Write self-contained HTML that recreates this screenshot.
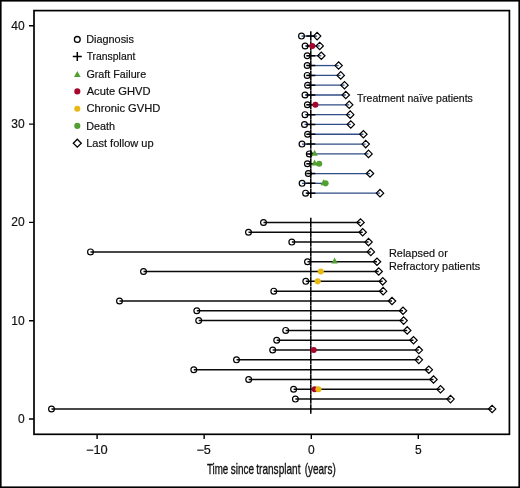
<!DOCTYPE html>
<html><head><meta charset="utf-8"><style>
html,body{margin:0;padding:0;background:#fff;}
body{width:520px;height:488px;overflow:hidden;}
svg{display:block;will-change:transform;}
text{font-family:"Liberation Sans",sans-serif;fill:#111;stroke:#111;stroke-width:0.18px;}
.tk{font-size:12px;}
.lg{font-size:10.7px;}
.xt{font-size:14.5px;stroke-width:0.35px;}
</style></head><body>
<svg width="520" height="488" viewBox="0 0 520 488">
<rect width="520" height="488" fill="#fff"/>
<rect x="0.8" y="0.8" width="518.4" height="486.4" fill="none" stroke="#000" stroke-width="1.6"/>
<rect x="34" y="10.6" width="475.4" height="423.7" fill="none" stroke="#000" stroke-width="1.7"/>
<text x="24.6" y="423.05" text-anchor="end" class="tk">0</text>
<text x="24.6" y="324.75" text-anchor="end" class="tk">10</text>
<text x="24.6" y="226.45" text-anchor="end" class="tk">20</text>
<text x="24.6" y="128.15" text-anchor="end" class="tk">30</text>
<text x="24.6" y="29.85" text-anchor="end" class="tk">40</text>
<text x="96.8" y="453.8" text-anchor="middle" class="tk" textLength="21.8" lengthAdjust="spacingAndGlyphs">−10</text>
<text x="203.7" y="453.8" text-anchor="middle" class="tk" textLength="14.4" lengthAdjust="spacingAndGlyphs">−5</text>
<text x="311.3" y="453.8" text-anchor="middle" class="tk">0</text>
<text x="418.3" y="453.8" text-anchor="middle" class="tk">5</text>
<path d="M29 419H34M29 320.7H34M29 222.4H34M29 124.1H34M29 25.8H34M97.1 434V439M204.15 434V439M311.3 434V439M418.3 434V439" stroke="#000" stroke-width="1.4"/>
<text x="206.91" y="473.7" class="xt" textLength="21.32" lengthAdjust="spacingAndGlyphs">Time</text>
<text x="230.82" y="473.7" class="xt" textLength="23.25" lengthAdjust="spacingAndGlyphs">since</text>
<text x="256.3" y="473.7" class="xt" textLength="44.16" lengthAdjust="spacingAndGlyphs">transplant</text>
<text x="304.72" y="473.7" class="xt" textLength="31.00" lengthAdjust="spacingAndGlyphs">(years)</text>
<g fill="none" stroke-width="1.45"><path d="M301.5 36.12H317.1" stroke="#2f4d86" stroke-width="1.3"/><path d="M305.1 45.93H319.7" stroke="#2f4d86" stroke-width="1.3"/><path d="M307.2 55.75H321.3" stroke="#2f4d86" stroke-width="1.3"/><path d="M307.2 65.56H338.6" stroke="#2f4d86" stroke-width="1.3"/><path d="M307.2 75.38H340.7" stroke="#2f4d86" stroke-width="1.3"/><path d="M307.6 85.19H344.5" stroke="#2f4d86" stroke-width="1.3"/><path d="M305 95.01H345.8" stroke="#2f4d86" stroke-width="1.3"/><path d="M307.4 104.82H349.2" stroke="#2f4d86" stroke-width="1.3"/><path d="M305 114.64H350.2" stroke="#2f4d86" stroke-width="1.3"/><path d="M304.5 124.45H350.8" stroke="#2f4d86" stroke-width="1.3"/><path d="M307.6 134.27H363.4" stroke="#2f4d86" stroke-width="1.3"/><path d="M302 144.08H365.7" stroke="#2f4d86" stroke-width="1.3"/><path d="M309.3 153.9H368.5" stroke="#2f4d86" stroke-width="1.3"/><path d="M307.4 163.71H319.2" stroke="#2f4d86" stroke-width="1.3"/><path d="M308.3 173.53H370" stroke="#2f4d86" stroke-width="1.3"/><path d="M302.1 183.34H325.6" stroke="#2f4d86" stroke-width="1.3"/><path d="M305.6 193.16H380" stroke="#2f4d86" stroke-width="1.3"/><path d="M263.5 222.45H360.5" stroke="#0a0a0a" stroke-width="1.5"/><path d="M248.5 232.27H362.7" stroke="#0a0a0a" stroke-width="1.5"/><path d="M291.8 242.08H368.5" stroke="#0a0a0a" stroke-width="1.5"/><path d="M90.5 251.9H370.8" stroke="#0a0a0a" stroke-width="1.5"/><path d="M307.5 261.71H377" stroke="#0a0a0a" stroke-width="1.5"/><path d="M143.5 271.52H378.7" stroke="#0a0a0a" stroke-width="1.5"/><path d="M305.8 281.34H382.7" stroke="#0a0a0a" stroke-width="1.5"/><path d="M273.8 291.15H383.1" stroke="#0a0a0a" stroke-width="1.5"/><path d="M119.5 300.97H392" stroke="#0a0a0a" stroke-width="1.5"/><path d="M196.8 310.79H403" stroke="#0a0a0a" stroke-width="1.5"/><path d="M198.7 320.6H403.6" stroke="#0a0a0a" stroke-width="1.5"/><path d="M285.7 330.42H407.2" stroke="#0a0a0a" stroke-width="1.5"/><path d="M276.7 340.23H413.5" stroke="#0a0a0a" stroke-width="1.5"/><path d="M272.7 350.05H418.8" stroke="#0a0a0a" stroke-width="1.5"/><path d="M236.5 359.86H418.8" stroke="#0a0a0a" stroke-width="1.5"/><path d="M193.8 369.68H428.8" stroke="#0a0a0a" stroke-width="1.5"/><path d="M248.7 379.49H433.5" stroke="#0a0a0a" stroke-width="1.5"/><path d="M293.6 389.31H440.5" stroke="#0a0a0a" stroke-width="1.5"/><path d="M295.4 399.12H450.5" stroke="#0a0a0a" stroke-width="1.5"/><path d="M51.5 408.94H492.1" stroke="#0a0a0a" stroke-width="1.5"/></g>
<path d="M306.3 36.12h9M310.8 31.37v9.5M306.3 45.93h9M310.8 41.18v9.5M306.3 55.75h9M310.8 51v9.5M306.3 65.56h9M310.8 60.81v9.5M306.3 75.38h9M310.8 70.63v9.5M306.3 85.19h9M310.8 80.44v9.5M306.3 95.01h9M310.8 90.26v9.5M306.3 104.82h9M310.8 100.07v9.5M306.3 114.64h9M310.8 109.89v9.5M306.3 124.45h9M310.8 119.7v9.5M306.3 134.27h9M310.8 129.52v9.5M306.3 144.08h9M310.8 139.33v9.5M306.3 153.9h9M310.8 149.15v9.5M306.3 163.71h9M310.8 158.96v9.5M306.3 173.53h9M310.8 168.78v9.5M306.3 183.34h9M310.8 178.59v9.5M306.3 193.16h9M310.8 188.41v9.5M310.8 217.7v9.5M310.8 227.52v9.5M310.8 237.33v9.5M310.8 247.15v9.5M310.8 256.96v9.5M310.8 266.77v9.5M310.8 276.59v9.5M310.8 286.4v9.5M310.8 296.22v9.5M310.8 306.04v9.5M310.8 315.85v9.5M310.8 325.67v9.5M310.8 335.48v9.5M310.8 345.3v9.5M310.8 355.11v9.5M310.8 364.93v9.5M310.8 374.74v9.5M310.8 384.56v9.5M310.8 394.37v9.5M310.8 404.19v9.5" stroke="#000" stroke-width="1.5" fill="none"/>
<g fill="none" stroke="#000" stroke-width="1.2"><circle cx="301.5" cy="36.12" r="2.9"/><circle cx="305.1" cy="45.93" r="2.9"/><circle cx="307.2" cy="55.75" r="2.9"/><circle cx="307.2" cy="65.56" r="2.9"/><circle cx="307.2" cy="75.38" r="2.9"/><circle cx="307.6" cy="85.19" r="2.9"/><circle cx="305" cy="95.01" r="2.9"/><circle cx="307.4" cy="104.82" r="2.9"/><circle cx="305" cy="114.64" r="2.9"/><circle cx="304.5" cy="124.45" r="2.9"/><circle cx="307.6" cy="134.27" r="2.9"/><circle cx="302" cy="144.08" r="2.9"/><circle cx="309.3" cy="153.9" r="2.9"/><circle cx="307.4" cy="163.71" r="2.9"/><circle cx="308.3" cy="173.53" r="2.9"/><circle cx="302.1" cy="183.34" r="2.9"/><circle cx="305.6" cy="193.16" r="2.9"/><circle cx="263.5" cy="222.45" r="2.9"/><circle cx="248.5" cy="232.27" r="2.9"/><circle cx="291.8" cy="242.08" r="2.9"/><circle cx="90.5" cy="251.9" r="2.9"/><circle cx="307.5" cy="261.71" r="2.9"/><circle cx="143.5" cy="271.52" r="2.9"/><circle cx="305.8" cy="281.34" r="2.9"/><circle cx="273.8" cy="291.15" r="2.9"/><circle cx="119.5" cy="300.97" r="2.9"/><circle cx="196.8" cy="310.79" r="2.9"/><circle cx="198.7" cy="320.6" r="2.9"/><circle cx="285.7" cy="330.42" r="2.9"/><circle cx="276.7" cy="340.23" r="2.9"/><circle cx="272.7" cy="350.05" r="2.9"/><circle cx="236.5" cy="359.86" r="2.9"/><circle cx="193.8" cy="369.68" r="2.9"/><circle cx="248.7" cy="379.49" r="2.9"/><circle cx="293.6" cy="389.31" r="2.9"/><circle cx="295.4" cy="399.12" r="2.9"/><circle cx="51.5" cy="408.94" r="2.9"/></g>
<path d="M313.4 36.12L317.1 32.42L320.8 36.12L317.1 39.82ZM316 45.93L319.7 42.23L323.4 45.93L319.7 49.63ZM317.6 55.75L321.3 52.05L325 55.75L321.3 59.45ZM334.9 65.56L338.6 61.86L342.3 65.56L338.6 69.26ZM337 75.38L340.7 71.68L344.4 75.38L340.7 79.08ZM340.8 85.19L344.5 81.49L348.2 85.19L344.5 88.89ZM342.1 95.01L345.8 91.31L349.5 95.01L345.8 98.71ZM345.5 104.82L349.2 101.12L352.9 104.82L349.2 108.52ZM346.5 114.64L350.2 110.94L353.9 114.64L350.2 118.34ZM347.1 124.45L350.8 120.75L354.5 124.45L350.8 128.15ZM359.7 134.27L363.4 130.57L367.1 134.27L363.4 137.97ZM362 144.08L365.7 140.38L369.4 144.08L365.7 147.78ZM364.8 153.9L368.5 150.2L372.2 153.9L368.5 157.59ZM366.3 173.53L370 169.83L373.7 173.53L370 177.22ZM376.3 193.16L380 189.46L383.7 193.16L380 196.86ZM356.8 222.45L360.5 218.75L364.2 222.45L360.5 226.15ZM359 232.27L362.7 228.57L366.4 232.27L362.7 235.97ZM364.8 242.08L368.5 238.38L372.2 242.08L368.5 245.78ZM367.1 251.9L370.8 248.2L374.5 251.9L370.8 255.59ZM373.3 261.71L377 258.01L380.7 261.71L377 265.41ZM375 271.52L378.7 267.82L382.4 271.52L378.7 275.22ZM379 281.34L382.7 277.64L386.4 281.34L382.7 285.04ZM379.4 291.15L383.1 287.45L386.8 291.15L383.1 294.85ZM388.3 300.97L392 297.27L395.7 300.97L392 304.67ZM399.3 310.79L403 307.09L406.7 310.79L403 314.49ZM399.9 320.6L403.6 316.9L407.3 320.6L403.6 324.3ZM403.5 330.42L407.2 326.72L410.9 330.42L407.2 334.12ZM409.8 340.23L413.5 336.53L417.2 340.23L413.5 343.93ZM415.1 350.05L418.8 346.35L422.5 350.05L418.8 353.75ZM415.1 359.86L418.8 356.16L422.5 359.86L418.8 363.56ZM425.1 369.68L428.8 365.98L432.5 369.68L428.8 373.38ZM429.8 379.49L433.5 375.79L437.2 379.49L433.5 383.19ZM436.8 389.31L440.5 385.61L444.2 389.31L440.5 393ZM446.8 399.12L450.5 395.42L454.2 399.12L450.5 402.82ZM488.4 408.94L492.1 405.24L495.8 408.94L492.1 412.63Z" stroke="#000" stroke-width="1.2" fill="none"/>
<circle cx="312.3" cy="45.93" r="3.05" fill="#a6052c"/><circle cx="315.4" cy="104.82" r="3.05" fill="#a6052c"/><path d="M314.6 149.7L317.75 155.8L311.45 155.8Z" fill="#52a032"/><path d="M314.6 159.51L317.75 165.61L311.45 165.61Z" fill="#52a032"/><circle cx="319.2" cy="163.71" r="3.05" fill="#52a032"/><path d="M323.6 179.14L326.75 185.24L320.45 185.24Z" fill="#52a032"/><circle cx="325.6" cy="183.34" r="3.05" fill="#52a032"/><path d="M334.6 257.51L337.75 263.61L331.45 263.61Z" fill="#52a032"/><circle cx="320.8" cy="271.52" r="3.05" fill="#e9b812"/><circle cx="317.7" cy="281.34" r="3.05" fill="#e9b812"/><circle cx="313.7" cy="350.05" r="3.05" fill="#a6052c"/><circle cx="314.7" cy="389.31" r="3.05" fill="#a6052c"/><circle cx="318.4" cy="389.31" r="3.05" fill="#e9b812"/>
<text x="357.05" y="101.9" class="lg" textLength="115.81" lengthAdjust="spacingAndGlyphs">Treatment naïve patients</text>
<text x="389.01" y="256.6" class="lg" textLength="58.79" lengthAdjust="spacingAndGlyphs">Relapsed or</text>
<text x="389.02" y="269.5" class="lg" textLength="91.11" lengthAdjust="spacingAndGlyphs">Refractory patients</text>
<circle cx="77.3" cy="39.4" r="2.9" fill="none" stroke="#000" stroke-width="1.3"/>
<text x="86.16" y="43.1" class="lg" textLength="47.84" lengthAdjust="spacingAndGlyphs">Diagnosis</text>
<path d="M72.8 56.6h9M77.3 52.1v9" stroke="#000" stroke-width="1.5"/>
<text x="86.65" y="60.3" class="lg" textLength="48.72" lengthAdjust="spacingAndGlyphs">Transplant</text>
<path d="M77.3 70.9L80.6 77.1L74 77.1Z" fill="#52a032"/>
<text x="86.4" y="78" class="lg" textLength="59.80" lengthAdjust="spacingAndGlyphs">Graft Failure</text>
<circle cx="77.3" cy="91.4" r="3.05" fill="#a6052c"/>
<text x="86.68" y="95.1" class="lg" textLength="63.85" lengthAdjust="spacingAndGlyphs">Acute GHVD</text>
<circle cx="77.3" cy="108.7" r="3.05" fill="#e9b812"/>
<text x="86.44" y="112.4" class="lg" textLength="74.02" lengthAdjust="spacingAndGlyphs">Chronic GVHD</text>
<circle cx="77.3" cy="125.9" r="3.05" fill="#52a032"/>
<text x="86.15" y="129.6" class="lg" textLength="28.87" lengthAdjust="spacingAndGlyphs">Death</text>
<path d="M73.3 143.2L77.3 139.2L81.3 143.2L77.3 147.2Z" fill="none" stroke="#000" stroke-width="1.3"/>
<text x="86.18" y="146.9" class="lg" textLength="67.48" lengthAdjust="spacingAndGlyphs">Last follow up</text>
</svg>
</body></html>
